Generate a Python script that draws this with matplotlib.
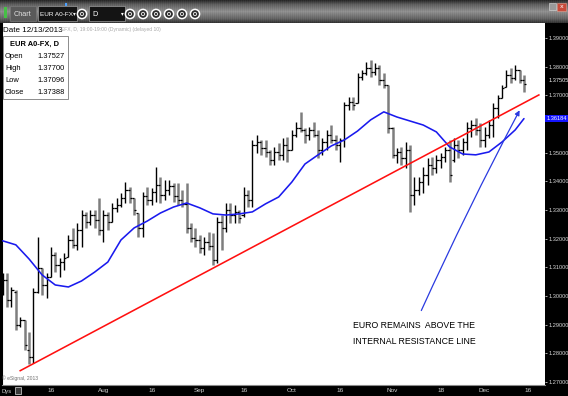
import matplotlib
matplotlib.use('Agg')
import matplotlib.pyplot as plt
import matplotlib.transforms as mtrans
from matplotlib.patches import Rectangle, Circle, FancyArrowPatch
from matplotlib import font_manager
import numpy as np

# ---------------- data (EUR A0-FX daily, Jul 1 - Dec 13, 2013) ----------------
bar_open = [1.3021, 1.3055, 1.2986, 1.3014, 1.2898, 1.2916, 1.2811, 1.2787, 1.3014, 1.3097,
            1.3038, 1.3066, 1.3143, 1.3108, 1.3118, 1.3136, 1.3195, 1.3178, 1.3230, 1.3282,
            1.3258, 1.3282, 1.3265, 1.3230, 1.3282, 1.3258, 1.3307, 1.3317, 1.3342, 1.3370,
            1.3342, 1.3289, 1.3237, 1.3349, 1.3335, 1.3363, 1.3387, 1.3352, 1.3370, 1.3383,
            1.3349, 1.3335, 1.3321, 1.3237, 1.3202, 1.3195, 1.3167, 1.3188, 1.3174, 1.3125,
            1.3258, 1.3237, 1.3300, 1.3282, 1.3293, 1.3282, 1.3352, 1.3335, 1.3527, 1.3537,
            1.3516, 1.3502, 1.3474, 1.3502, 1.3492, 1.3527, 1.3509, 1.3561, 1.3586, 1.3579,
            1.3561, 1.3579, 1.3561, 1.3509, 1.3537, 1.3561, 1.3544, 1.3527, 1.3544, 1.3666,
            1.3677, 1.3673, 1.3764, 1.3778, 1.3795, 1.3781, 1.3795, 1.3753, 1.3736, 1.3586,
            1.3492, 1.3502, 1.3481, 1.3509, 1.3352, 1.3370, 1.3397, 1.3422, 1.3457, 1.3446,
            1.3474, 1.3485, 1.3509, 1.3474, 1.3527, 1.3509, 1.3537, 1.3586, 1.3596, 1.3579,
            1.3544, 1.3561, 1.3596, 1.3656, 1.3691, 1.3729, 1.3771, 1.3760, 1.3788, 1.37527]
bar_high = [1.3080, 1.3080, 1.3031, 1.3021, 1.2926, 1.2916, 1.2874, 1.3028, 1.3205, 1.3097,
            1.3080, 1.3171, 1.3153, 1.3132, 1.3150, 1.3212, 1.3237, 1.3254, 1.3300, 1.3293,
            1.3300, 1.3300, 1.3342, 1.3300, 1.3293, 1.3324, 1.3342, 1.3359, 1.3397, 1.3380,
            1.3342, 1.3289, 1.3363, 1.3380, 1.3377, 1.3450, 1.3415, 1.3404, 1.3404, 1.3394,
            1.3394, 1.3370, 1.3394, 1.3254, 1.3237, 1.3212, 1.3205, 1.3223, 1.3219, 1.3275,
            1.3282, 1.3324, 1.3324, 1.3317, 1.3300, 1.3380, 1.3370, 1.3544, 1.3561, 1.3544,
            1.3544, 1.3509, 1.3520, 1.3534, 1.3551, 1.3554, 1.3579, 1.3607, 1.3642, 1.3586,
            1.3589, 1.3607, 1.3579, 1.3551, 1.3579, 1.3596, 1.3561, 1.3551, 1.3677, 1.3694,
            1.3694, 1.3778, 1.3788, 1.3816, 1.3823, 1.3813, 1.3806, 1.3778, 1.3736, 1.3589,
            1.3516, 1.3520, 1.3537, 1.3527, 1.3415, 1.3415, 1.3450, 1.3481, 1.3485, 1.3492,
            1.3499, 1.3520, 1.3544, 1.3551, 1.3544, 1.3551, 1.3607, 1.3614, 1.3621, 1.3603,
            1.3589, 1.3614, 1.3673, 1.3701, 1.3736, 1.3788, 1.3795, 1.3806, 1.3788, 1.37700]
bar_low = [1.3003, 1.2961, 1.2961, 1.2881, 1.2891, 1.2811, 1.2762, 1.2766, 1.3010, 1.3003,
           1.2993, 1.3066, 1.3083, 1.3066, 1.3090, 1.3136, 1.3167, 1.3160, 1.3171, 1.3237,
           1.3247, 1.3237, 1.3212, 1.3188, 1.3230, 1.3258, 1.3293, 1.3310, 1.3324, 1.3324,
           1.3282, 1.3205, 1.3205, 1.3317, 1.3317, 1.3328, 1.3324, 1.3335, 1.3352, 1.3328,
           1.3317, 1.3310, 1.3219, 1.3188, 1.3171, 1.3150, 1.3143, 1.3160, 1.3108, 1.3115,
           1.3160, 1.3223, 1.3254, 1.3254, 1.3254, 1.3275, 1.3310, 1.3310, 1.3499, 1.3492,
           1.3485, 1.3457, 1.3457, 1.3474, 1.3474, 1.3467, 1.3509, 1.3554, 1.3572, 1.3534,
           1.3544, 1.3554, 1.3481, 1.3492, 1.3509, 1.3534, 1.3509, 1.3467, 1.3520, 1.3649,
           1.3649, 1.3673, 1.3753, 1.3771, 1.3764, 1.3771, 1.3736, 1.3725, 1.3568, 1.3481,
           1.3464, 1.3457, 1.3446, 1.3293, 1.3317, 1.3352, 1.3359, 1.3387, 1.3422, 1.3429,
           1.3446, 1.3467, 1.3397, 1.3467, 1.3481, 1.3492, 1.3509, 1.3554, 1.3561, 1.3520,
           1.3520, 1.3551, 1.3554, 1.3621, 1.3691, 1.3729, 1.3743, 1.3753, 1.3743, 1.37096]
bar_close = [1.3055, 1.2986, 1.3021, 1.2898, 1.2916, 1.2829, 1.2787, 1.3014, 1.3097, 1.3038,
             1.3066, 1.3143, 1.3108, 1.3118, 1.3132, 1.3195, 1.3178, 1.3230, 1.3282, 1.3258,
             1.3282, 1.3265, 1.3230, 1.3282, 1.3258, 1.3307, 1.3317, 1.3342, 1.3370, 1.3342,
             1.3300, 1.3237, 1.3349, 1.3335, 1.3363, 1.3387, 1.3352, 1.3370, 1.3383, 1.3349,
             1.3335, 1.3321, 1.3237, 1.3202, 1.3195, 1.3167, 1.3188, 1.3174, 1.3125, 1.3258,
             1.3237, 1.3300, 1.3282, 1.3293, 1.3272, 1.3352, 1.3335, 1.3527, 1.3537, 1.3516,
             1.3502, 1.3474, 1.3502, 1.3492, 1.3527, 1.3509, 1.3561, 1.3586, 1.3579, 1.3561,
             1.3579, 1.3561, 1.3509, 1.3537, 1.3561, 1.3544, 1.3527, 1.3544, 1.3666, 1.3677,
             1.3666, 1.3764, 1.3778, 1.3795, 1.3781, 1.3795, 1.3753, 1.3736, 1.3586, 1.3492,
             1.3502, 1.3481, 1.3509, 1.3352, 1.3370, 1.3397, 1.3422, 1.3457, 1.3446, 1.3474,
             1.3485, 1.3509, 1.3422, 1.3527, 1.3509, 1.3537, 1.3586, 1.3596, 1.3579, 1.3544,
             1.3561, 1.3596, 1.3656, 1.3691, 1.3725, 1.3771, 1.3760, 1.3788, 1.3753, 1.37388]

ma_idx = [0, 3, 6, 9, 12, 15, 18, 21, 24, 27, 30, 33, 36, 39, 42, 45, 48, 51, 54, 57,
          60, 63, 66, 69, 72, 75, 78, 81, 84, 87, 90, 93, 96, 99, 102, 105, 108, 111, 114, 117, 119]
ma_val = [1.3192, 1.3178, 1.3129, 1.3073, 1.3038, 1.3031, 1.3052, 1.3083, 1.3118, 1.3195,
          1.3237, 1.3261, 1.3289, 1.3310, 1.3324, 1.3307, 1.3286, 1.3282, 1.3286, 1.3293,
          1.3321, 1.3345, 1.3397, 1.3460, 1.3492, 1.3523, 1.3544, 1.3575, 1.3614, 1.3642,
          1.3624, 1.3610, 1.3596, 1.3572, 1.3520, 1.3495, 1.3492, 1.3502, 1.3537, 1.3579, 1.36184]

trend_idx = [4.0, 122.4]
trend_val = [1.2739, 1.3701]
arrow_idx = [95.3, 118.3]
arrow_val = [1.2940, 1.3656]

tick_idx = [11, 23, 34, 45, 55, 66, 77, 89, 100, 110, 120]
tick_labels = ['16', 'Aug', '16', 'Sep', '16', 'Oct', '16', 'Nov', '18', 'Dec', '16']
price_ticks = [1.27, 1.28, 1.29, 1.30, 1.31, 1.32, 1.33, 1.34, 1.35, 1.37, 1.38, 1.39]
last_price_label = 1.37505
ma_last = 1.36184

info_title = 'EUR A0-FX, D'
info_date = 'Date 12/13/2013'
info_names = ['Open', 'High', 'Low', 'Close']
info_values = ['1.37527', '1.37700', '1.37096', '1.37388']
annotation_lines = ['EURO REMAINS  ABOVE THE', 'INTERNAL RESISTANCE LINE']

# ---------------- fonts ----------------
names = {f.name for f in font_manager.fontManager.ttflist}
HAS_NARROW = 'Liberation Sans Narrow' in names
NARROW = 'Liberation Sans Narrow' if HAS_NARROW else 'Liberation Sans'
NS = 1.0 if HAS_NARROW else 0.85   # scale for font size when narrow font missing

W, H = 568, 396
fig = plt.figure(figsize=(W / 100, H / 100), dpi=100, facecolor='black')


def fx(x):
    return x / W


def fy(y):
    return 1 - y / H


# ---------------- main price axes ----------------
ax = fig.add_axes([fx(2), fy(385), fx(545) - fx(2), fy(23) - fy(385)])
ax.set_facecolor('white')
ax.set_xlim(-0.16, 123.8)
ax.set_ylim(1.2689, 1.3952)

n = len(bar_close)
idx = np.arange(n)
down = [bar_close[i] < bar_open[i] for i in range(n)]
cols = ['#7e7e7e' if d else '#000000' for d in down]
lws = [1.8 if d else 1.0 for d in down]
ax.vlines(idx, bar_low, bar_high, colors=cols, linewidths=lws, zorder=3)
ax.hlines(bar_open, idx - 0.5, idx, colors='black', linewidths=0.9, zorder=4)
ax.hlines(bar_close, idx, idx + 0.5, colors='black', linewidths=0.9, zorder=4)

ax.plot(ma_idx, ma_val, color='#1a1aee', lw=1.15, zorder=5, solid_capstyle='round')
ax.plot(trend_idx, trend_val, color='#ff1010', lw=1.15, zorder=6)

arr = FancyArrowPatch((arrow_idx[0], arrow_val[0]), (arrow_idx[1], arrow_val[1]),
                      arrowstyle='-|>', mutation_scale=7, color='#2a3ae0', lw=0.9,
                      connectionstyle='arc3,rad=-0.015', zorder=7)
ax.add_patch(arr)

for s in ['top', 'right']:
    ax.spines[s].set_visible(False)
ax.spines['left'].set_color('black')
ax.spines['left'].set_linewidth(1.5)
ax.spines['bottom'].set_color('#8a8a8a')
ax.spines['bottom'].set_linewidth(0.8)

ax.yaxis.tick_right()
ax.set_yticks(price_ticks)
ax.set_yticklabels([f'{v:.5f}' for v in price_ticks], fontsize=4.8 * NS, color='#d8d8d8',
                   family=NARROW)
ax.tick_params(axis='y', length=1.5, width=0.6, color='#cfcfcf', pad=1)
ax.set_xticks(tick_idx)
ax.set_xticklabels(tick_labels, fontsize=5.4 * NS, color='#d0d0d0', family=NARROW)
ax.tick_params(axis='x', length=0, pad=2.0)

blend = mtrans.blended_transform_factory(ax.transAxes, ax.transData)
ax.text(1.003, ma_last, f'{ma_last:.5f}', transform=blend, ha='left', va='center',
        fontsize=4.8 * NS, family=NARROW, color='white', clip_on=False, zorder=10,
        bbox=dict(boxstyle='square,pad=0.2', fc='#1414ff', ec='none'))
ax.text(1.006, last_price_label, f'{last_price_label:.5f}', transform=blend, ha='left',
        va='center', fontsize=4.8 * NS, family=NARROW, color='#f4f4f4', clip_on=False)

# annotation text
fig.text(fx(353), fy(325), annotation_lines[0], fontsize=7.4 * NS, family=NARROW,
         color='black', va='center', ha='left')
fig.text(fx(353), fy(341), annotation_lines[1], fontsize=7.4 * NS, family=NARROW,
         color='black', va='center', ha='left')

# copyright
fig.text(fx(2), fy(378), '\u00a9 eSignal, 2013', fontsize=3.6, family=NARROW,
         color='#707070', va='center', ha='left')

# ---------------- info box ----------------
fig.text(fx(3), fy(30), info_date, fontsize=6.8 * NS, family=NARROW, color='black',
         va='center', ha='left')
fig.text(fx(61), fy(30), 'EFX, D, 19:00-19:00 (Dynamic) (delayed 10)', fontsize=4.3 * NS,
         family=NARROW, color='#a8a8a8', va='center', ha='left')
fig.patches.append(Rectangle((fx(3), fy(99)), fx(68) - fx(3), fy(36) - fy(99),
                             transform=fig.transFigure, fc='white', ec='#8c8c8c', lw=0.7,
                             zorder=8))
fig.text(fx(34), fy(44.5), info_title, fontsize=6.4 * NS, family=NARROW, weight='bold',
         color='black', va='center', ha='center', zorder=9)
rows_y = [57, 69, 81, 92]
for nm, val, yy in zip(info_names, info_values, rows_y):
    fig.text(fx(5), fy(yy), nm, fontsize=6.4 * NS, family=NARROW, color='black',
             va='center', ha='left', zorder=9)
    fig.text(fx(65), fy(yy), val, fontsize=6.4 * NS, family=NARROW, color='black',
             va='center', ha='right', zorder=9)

# ---------------- bottom strip ----------------
fig.text(fx(2), fy(391), 'Dys', fontsize=5.0 * NS, family=NARROW, color='#cfcfcf',
         va='center', ha='left')
fig.patches.append(Rectangle((fx(15), fy(394)), fx(6), fy(387) - fy(394),
                             transform=fig.transFigure, fc='#3a3a3a', ec='#bdbdbd', lw=0.6))

# ---------------- toolbar ----------------
tb = fig.add_axes([0, fy(23), 1, 23 / H])
tb.set_xlim(0, W)
tb.set_ylim(23, 0)
tb.axis('off')
grad = np.interp(np.arange(23), [0, 4, 11, 18, 22], [0.16, 0.36, 0.55, 0.38, 0.2])
stripes = (np.arange(W) % 2) * 0.03
img = np.clip(grad[:, None] + stripes[None, :], 0, 1)
tb.imshow(np.dstack([img, img, img]), extent=[0, W, 23, 0], aspect='auto', zorder=0)
tb.add_patch(Rectangle((4, 7), 3, 11, fc='#46c046', ec='none', zorder=2))
tb.add_patch(Rectangle((10, 6), 26, 15, fc='#5a5a5a', ec='#7a7a7a', lw=0.5, zorder=2))
tb.text(14, 14, 'Chart', fontsize=5.2, family=NARROW, color='#e0e0e0', va='center', zorder=3)
tb.add_patch(Rectangle((38, 6), 39, 15, fc='#141414', ec='#9a9a9a', lw=0.5, zorder=2))
tb.text(40, 14, 'EUR A0-FX', fontsize=4.6, family=NARROW, color='white', va='center', zorder=3)
tb.text(76, 14, '\u25be', fontsize=4.0, color='white', va='center', ha='right', zorder=3)
tb.add_patch(Rectangle((65, 3), 2, 3, fc='#4aa0ff', ec='none', zorder=3))
tb.add_patch(Rectangle((89, 6), 36, 15, fc='#141414', ec='#9a9a9a', lw=0.5, zorder=2))
tb.text(92, 14, 'D', fontsize=5.2, family=NARROW, color='white', va='center', zorder=3)
tb.text(124, 14, '\u25be', fontsize=4.0, color='white', va='center', ha='right', zorder=3)
for cx in [82, 130, 143, 156, 169, 182, 195]:
    tb.add_patch(Circle((cx, 14), 4.6, fc='#2a2a2a', ec='white', lw=1.1, zorder=3))
    tb.add_patch(Circle((cx, 14), 1.6, fc='none', ec='#dddddd', lw=0.7, zorder=4))
tb.add_patch(Rectangle((549, 3), 7, 7, fc='#9a9a9a', ec='#dddddd', lw=0.4, zorder=3))
tb.add_patch(Rectangle((557, 3), 9, 8, fc='#c84a3a', ec='#e0a090', lw=0.4, zorder=3))
tb.text(561.5, 7, 'x', fontsize=4.5, color='white', ha='center', va='center', zorder=4)

fig.savefig('out.png', dpi=100, facecolor='black')
